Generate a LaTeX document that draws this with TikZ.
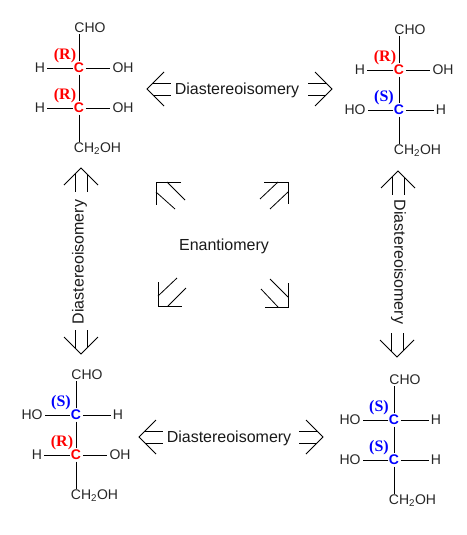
\documentclass[tikz,border=0pt]{standalone}
\usepackage{fontspec}
\setmainfont{Liberation Sans}
\newfontfamily\cfgfont{Liberation Serif}
\tikzset{
  atom/.style={inner sep=0pt,text=black!85,font=\fontsize{14}{16}\selectfont},
  centerR/.style={inner sep=1.5pt,text=red,font=\fontsize{14}{16}\selectfont\bfseries},
  centerS/.style={inner sep=1.5pt,text=blue,font=\fontsize{14}{16}\selectfont\bfseries},
  cfgR/.style={inner sep=0pt,text=red,font=\fontsize{16}{18}\selectfont\cfgfont\bfseries},
  cfgS/.style={inner sep=0pt,text=blue,font=\fontsize{16}{18}\selectfont\cfgfont\bfseries},
  bond/.style={draw=black,line width=0.8pt},
  relarrow/.style={draw=black,line width=0.8pt},
  relation/.style={inner sep=0pt,text=black!90,font=\fontsize{16}{18}\selectfont}
}
\newcommand{\rowR}[2]{%
  \node[centerR] (#1) at (0,#2) {C};
  \node[cfgR] (#1cfg) at (-14,#2-12) {(R)};
  \node[atom] (#1l) at (-39,#2) {H};
  \node[atom] (#1r) at (44,#2) {OH};
  \draw[bond,shorten <=-1pt,shorten >=2pt] (#1) -- (#1l);
  \draw[bond,shorten <=0pt,shorten >=2pt] (#1) -- (#1r);
}
\newcommand{\rowS}[2]{%
  \node[centerS] (#1) at (0,#2) {C};
  \node[cfgS] (#1cfg) at (-15,#2-12) {(S)};
  \node[atom] (#1l) at (-44,#2) {HO};
  \node[atom] (#1r) at (42,#2) {H};
  \draw[bond,shorten <=-1pt,shorten >=2pt] (#1) -- (#1l);
  \draw[bond,shorten <=0pt,shorten >=2pt] (#1) -- (#1r);
}
\newcommand{\molecule}[5]{%
  \begin{scope}[shift={(#2,#3)}]
    #4{#1a}{0}
    #5{#1b}{40}
    \node[atom] (#1top) at (11,-40) {CHO};
    \node[atom] (#1bot) at (18.5,81) {CH\textsubscript{2}OH};
    \coordinate (#1topc) at (#1top.south -| #1a);
    \coordinate (#1botc) at (#1bot.north -| #1a);
    \draw[bond,shorten >=0pt] (#1a) -- ([yshift=-1pt]#1topc);
    \draw[bond] (#1a) -- (#1b);
    \draw[bond] (#1b) -- ([yshift=1pt]#1botc);
  \end{scope}
}
% double arrow: tip at (#1,#2); #3 = 0 points left, 180 right, -90 up, 90 down (y axis is flipped)
\newcommand{\dblarrow}[3]{%
  \begin{scope}[shift={(#1,#2)},rotate=#3]
    \draw[relarrow] (17,-17) -- (0,0) -- (17,17);
    \draw[relarrow] (6,-6) -- (24,-6);
    \draw[relarrow] (6,6) -- (24,6);
  \end{scope}
}
\begin{document}
\begin{tikzpicture}[x=1pt,y=-1pt]
\useasboundingbox (0,0) rectangle (466,535);
\molecule{tl}{79}{68}{\rowR}{\rowR}
\molecule{tr}{399}{70}{\rowR}{\rowS}
\molecule{bl}{76}{415}{\rowS}{\rowR}
\molecule{br}{394}{420}{\rowS}{\rowS}

\node[relation] (dtop) at (237,90.5) {Diastereoisomery};
\node[relation] (dbot) at (229,438.5) {Diastereoisomery};
\node[relation,rotate=90] (dleft) at (79.5,262) {Diastereoisomery};
\node[relation,rotate=-90] (dright) at (398.5,262) {Diastereoisomery};
\node[relation] (enant) at (224,246.5) {Enantiomery};

\dblarrow{147}{89}{0}
\dblarrow{332}{89}{180}
\dblarrow{139}{437}{0}
\dblarrow{323}{437}{180}
\dblarrow{81}{168}{-90}
\dblarrow{81}{354}{90}
\dblarrow{398}{171}{-90}
\dblarrow{397}{357}{90}

\draw[relarrow] (181,182) -- (156,182) -- (156,205);
\draw[relarrow] (167,182) -- (185,200);
\draw[relarrow] (156,192) -- (175,209);
\draw[relarrow] (264,182) -- (288,182) -- (288,204);
\draw[relarrow] (278,182) -- (260,199);
\draw[relarrow] (288,192) -- (270,209);
\draw[relarrow] (158,282) -- (158,306) -- (182,306);
\draw[relarrow] (158,296) -- (177,278);
\draw[relarrow] (168,306) -- (186,288);
\draw[relarrow] (288,283) -- (288,307) -- (265,307);
\draw[relarrow] (288,297) -- (270,279);
\draw[relarrow] (278,307) -- (261,289);
\end{tikzpicture}
\end{document}
